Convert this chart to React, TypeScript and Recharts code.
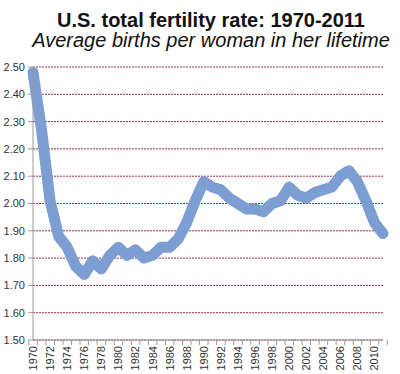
import React from "react";
import { LineChart, Line, XAxis, YAxis, CartesianGrid } from "recharts";

const years: string[] = [
  "1970","1971","1972","1973","1974","1975","1976","1977","1978","1979",
  "1980","1981","1982","1983","1984","1985","1986","1987","1988","1989",
  "1990","1991","1992","1993","1994","1995","1996","1997","1998","1999",
  "2000","2001","2002","2003","2004","2005","2006","2007","2008","2009",
  "2010","2011",
];
const fertility: number[] = [
  2.48, 2.27, 2.01, 1.88, 1.84, 1.77, 1.74, 1.79, 1.76, 1.81,
  1.84, 1.81, 1.83, 1.80, 1.81, 1.84, 1.84, 1.87, 1.93, 2.01,
  2.08, 2.06, 2.05, 2.02, 2.00, 1.98, 1.98, 1.97, 2.00, 2.01,
  2.06, 2.03, 2.02, 2.04, 2.05, 2.06, 2.10, 2.12, 2.08, 2.01,
  1.93, 1.89,
];
const yTicks: number[] = [1.5, 1.6, 1.7, 1.8, 1.9, 2.0, 2.1, 2.2, 2.3, 2.4, 2.5];
const title = "U.S. total fertility rate: 1970-2011";
const subtitle = "Average births per woman in her lifetime";

const data = years.map((y, i) => ({ year: y, tfr: fertility[i] }));

const W = 400;
const H = 374;
const M = { top: 67, right: 17, bottom: 0, left: 0 };
const Y_AXIS_W = 33;
const X_AXIS_H = 34;
const PLOT_W = W - M.right - Y_AXIS_W;
const BAND = PLOT_W / years.length;
const FONT = "'Liberation Sans', Arial, sans-serif";

const XTick = (props: any) => {
  const { x, y, payload, index } = props;
  const half = BAND / 2;
  const axisY = y - 7;
  const last = index === years.length - 1;
  return (
    <g>
      <line x1={x - half} x2={x - half} y1={axisY} y2={axisY + 5} stroke="#999" />
      {last && <line x1={x + half} x2={x + half} y1={axisY} y2={axisY + 5} stroke="#999" />}
      {index % 2 === 0 && (
        <text
          x={x}
          y={y - 1}
          transform={`rotate(-90 ${x} ${y - 1})`}
          textAnchor="end"
          dominantBaseline="central"
          fontSize={11}
          fill="#333"
          fontFamily={FONT}
        >
          {payload.value}
        </text>
      )}
    </g>
  );
};

export default function App() {
  return (
    <div style={{ position: "absolute", left: 0, top: 0, width: W, height: H, background: "#fff" }}>
      <LineChart width={W} height={H} data={data} margin={M}>
        <CartesianGrid
          horizontal
          vertical={false}
          stroke="#9a2a45"
          strokeDasharray="2 1"
        />
        <XAxis
          dataKey="year"
          interval={0}
          height={X_AXIS_H}
          tickSize={5}
          tickMargin={2}
          tickLine={false}
          stroke="#999"
          tick={<XTick />}
        />
        <YAxis
          domain={[1.5, 2.5]}
          ticks={yTicks}
          width={Y_AXIS_W}
          tickSize={5}
          tickMargin={3}
          stroke="#999"
          tickFormatter={(v: number) => v.toFixed(2)}
          tick={{ fontSize: 11, fill: "#333", fontFamily: FONT }}
        />
        <Line
          type="linear"
          dataKey="tfr"
          stroke="#7d9ed2"
          strokeWidth={11}
          strokeLinejoin="round"
          strokeLinecap="round"
          dot={false}
          activeDot={false}
          isAnimationActive={false}
        />
      </LineChart>
      <svg
        width={W}
        height={60}
        style={{ position: "absolute", left: 0, top: 0, pointerEvents: "none" }}
      >
        <text x={211} y={27} textAnchor="middle" fontSize={20} fontWeight="bold" fill="#111" fontFamily={FONT}>
          {title}
        </text>
        <text x={211} y={47} textAnchor="middle" fontSize={20} fontStyle="italic" fill="#111" fontFamily={FONT}>
          {subtitle}
        </text>
      </svg>
    </div>
  );
}
